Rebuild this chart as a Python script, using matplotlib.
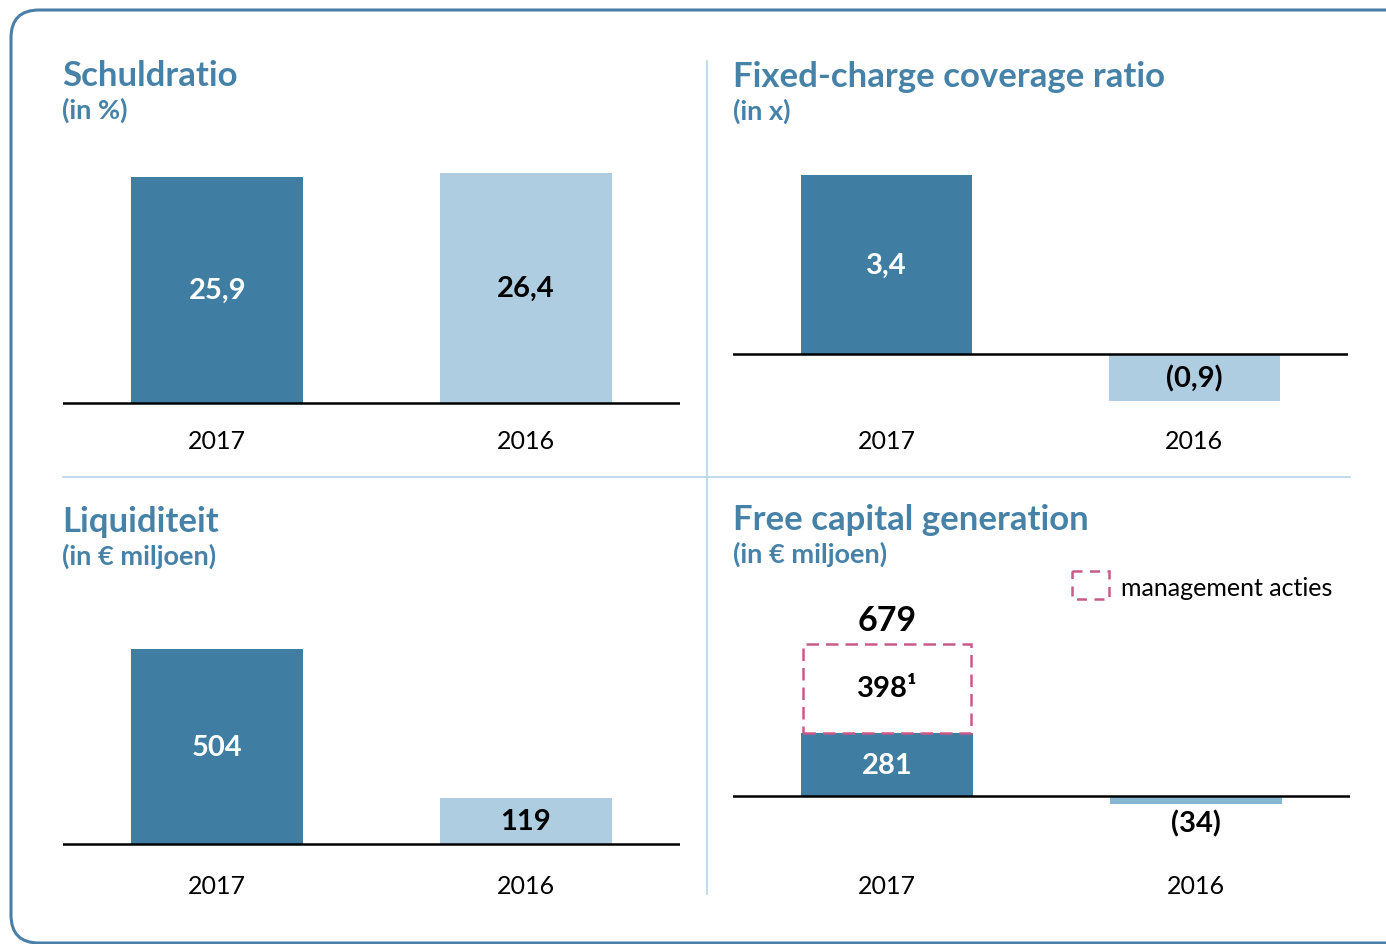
import matplotlib.pyplot as plt
from matplotlib.patches import FancyBboxPatch, Rectangle

plt.rcParams['font.family'] = ['Lato', 'DejaVu Sans']

# data
years = ['2017', '2016']
schuldratio = [25.9, 26.4]
fixed_charge = [3.4, -0.9]
liquiditeit = [504, 119]
free_capital = [281, -34]
management_acties = 398
free_capital_total = 679

DARK = '#3f7ea2'
LIGHT = '#afcde0'
MID = '#86b6d0'
TITLE = '#4682a8'
PINK = '#c95a8a'
DIVIDER = '#b4d4e8'

W, H = 1386, 945
fig = plt.figure(figsize=(W / 100, H / 100), dpi=100)

# background layer in pixel coordinates
bg = fig.add_axes([0, 0, 1, 1])
bg.set_xlim(0, W)
bg.set_ylim(H, 0)
bg.axis('off')

bg.add_patch(FancyBboxPatch((11, 11), 1420, 933, boxstyle='round,pad=0,rounding_size=28',
                            fill=False, edgecolor='#4a80a8', linewidth=2.2))
bg.plot([707, 707], [62, 895], color=DIVIDER, lw=1.2)
bg.plot([63, 1350], [478, 478], color=DIVIDER, lw=1.2)


def fmt(v, dec=1):
    s = f"{abs(v):.{dec}f}".replace('.', ',')
    return f"({s})" if v < 0 else s


def title(x, y, main, sub):
    bg.text(x, y, main, color=TITLE, fontsize=25, fontweight='bold', va='center', ha='left')
    bg.text(x, y + 34, sub, color=TITLE, fontsize=19.5, fontweight='bold', va='center', ha='left')


title(62, 76, 'Schuldratio', '(in %)')
title(733, 77, 'Fixed-charge coverage ratio', '(in x)')
title(62, 522, 'Liquiditeit', '(in € miljoen)')
title(733, 520, 'Free capital generation', '(in € miljoen)')

# legend
bg.add_patch(Rectangle((1072, 572), 37, 28, fill=False, edgecolor=PINK, lw=1.8,
                       linestyle=(0, (4, 3))))
bg.text(1121, 588, 'management acties', fontsize=18, va='center', ha='left', color='black')


def panel(x0, x1, zero, scale, ytop, ybot):
    ax = fig.add_axes([x0 / W, 1 - ybot / H, (x1 - x0) / W, (ybot - ytop) / H])
    ax.set_xlim(-0.5, 1.5)
    ax.set_ylim(-(ybot - zero) / scale, (zero - ytop) / scale)
    ax.axis('off')
    ax.axhline(0, color='black', lw=1.8, zorder=3)
    return ax


def px(ax_zero, scale, ypx):
    return (ax_zero - ypx) / scale


BAR_W = 0.557
VAL_FS = 21

# Schuldratio
z, s = 404, 8.72
ax1 = panel(63, 680, z, s, 150, 470)
ax1.bar([0, 1], schuldratio, width=BAR_W, color=[DARK, LIGHT])
for i, v in enumerate(schuldratio):
    ax1.text(i, v / 2, fmt(v), ha='center', va='center', fontsize=VAL_FS, fontweight='bold',
             color='white' if i == 0 else 'black')
    ax1.text(i, px(z, s, 442), years[i], ha='center', va='center', fontsize=18)

# Fixed-charge coverage ratio
z, s = 355, 52.6
ax2 = panel(733, 1348, z, s, 150, 470)
ax2.bar([0, 1], fixed_charge, width=BAR_W, color=[DARK, LIGHT])
for i, v in enumerate(fixed_charge):
    ax2.text(i, v / 2, fmt(v), ha='center', va='center', fontsize=VAL_FS, fontweight='bold',
             color='white' if i == 0 else 'black')
    ax2.text(i, px(z, s, 442), years[i], ha='center', va='center', fontsize=18)

# Liquiditeit
z, s = 845, 0.386
ax3 = panel(63, 680, z, s, 600, 910)
ax3.bar([0, 1], liquiditeit, width=BAR_W, color=[DARK, LIGHT])
for i, v in enumerate(liquiditeit):
    ax3.text(i, v / 2, fmt(v, 0), ha='center', va='center', fontsize=VAL_FS, fontweight='bold',
             color='white' if i == 0 else 'black')
    ax3.text(i, px(z, s, 887), years[i], ha='center', va='center', fontsize=18)

# Free capital generation
z, s = 797, 0.224
ax4 = panel(733, 1350, z, s, 600, 910)
ax4.bar([0, 1], free_capital, width=BAR_W, color=[DARK, MID])
ax4.bar([0], [management_acties], bottom=[free_capital[0]], width=BAR_W * 0.98,
        fill=False, edgecolor=PINK, lw=1.8, linestyle=(0, (5, 2.8)), zorder=4)
ax4.text(0, free_capital[0] / 2, fmt(free_capital[0], 0), ha='center', va='center',
         fontsize=VAL_FS, fontweight='bold', color='white')
ax4.text(0, free_capital[0] + management_acties / 2, fmt(management_acties, 0) + '¹',
         ha='center', va='center', fontsize=VAL_FS, fontweight='bold', color='black')
ax4.text(0, free_capital_total + 24 / s, str(free_capital_total), ha='center', va='center',
         fontsize=24.5, fontweight='bold', color='black')
ax4.text(1, free_capital[1] - 19 / s, fmt(free_capital[1], 0), ha='center', va='center',
         fontsize=VAL_FS, fontweight='bold', color='black')
for i in range(2):
    ax4.text(i, px(z, s, 887), years[i], ha='center', va='center', fontsize=18)

fig.savefig('out.png', dpi=100)
